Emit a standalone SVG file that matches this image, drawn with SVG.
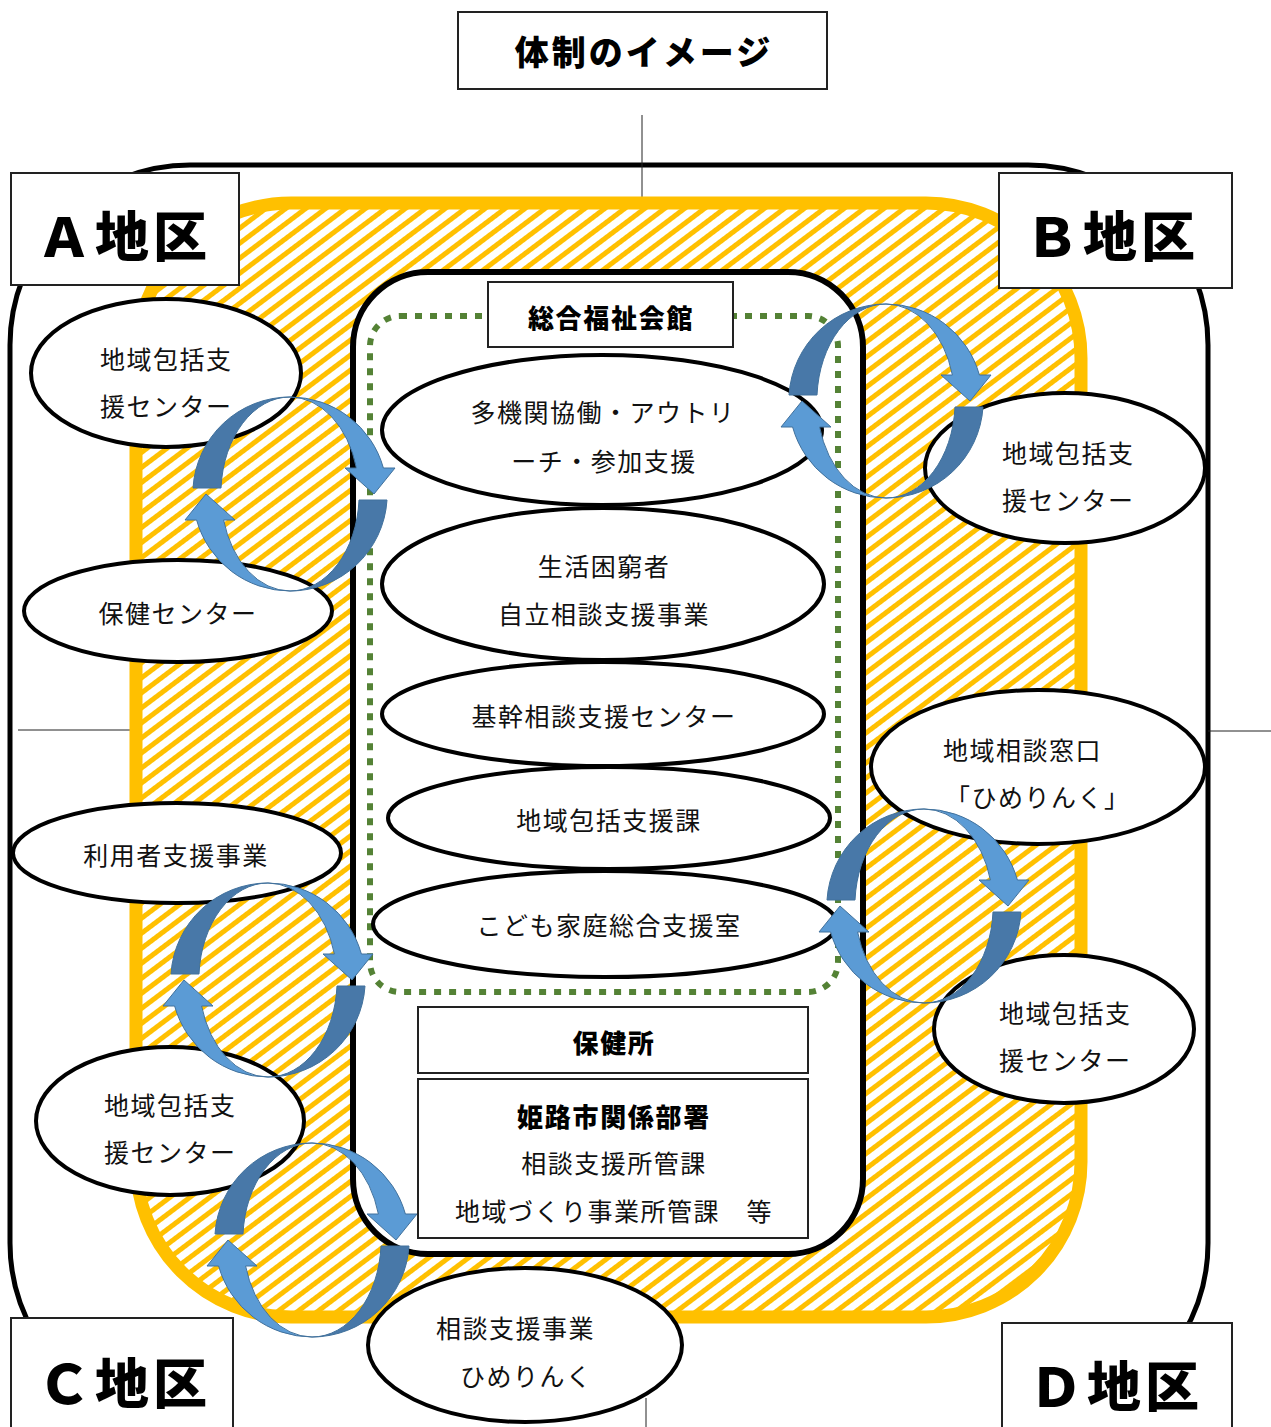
<svg xmlns="http://www.w3.org/2000/svg" xmlns:xlink="http://www.w3.org/1999/xlink" width="1271" height="1427" viewBox="0 0 1271 1427">
<style>
.t{font-family:"Noto Sans CJK JP","Noto Sans",sans-serif;font-size:25px;letter-spacing:1.5px;fill:#111;dominant-baseline:central}
.m{text-anchor:middle}
.b{font-weight:900;font-size:26px;letter-spacing:1.7px;fill:#000}
.d{font-family:"Noto Sans CJK JP","Noto Sans",sans-serif;font-size:54px;font-weight:900;letter-spacing:4px;fill:#000;dominant-baseline:central}
.ell{fill:#fff;stroke:#000;stroke-width:4}
.box{fill:#fff;stroke:#222;stroke-width:2}
.thin{stroke:#222;stroke-width:1;fill:none}
.dk{fill:#4878A8;stroke:#41719C;stroke-width:1}
.lt{fill:#5B9BD5;stroke:#41719C;stroke-width:1}
</style>
<defs>
<pattern id="hatch" patternUnits="userSpaceOnUse" width="12" height="12" patternTransform="rotate(-37)">
<rect width="12" height="12" fill="#fff"/>
<rect y="0" width="12" height="5" fill="#FFC000"/>
</pattern>
<g id="arrow">
<path class="dk" d="M -97,-6 A 97 97 0 0 1 0,-97 A 69 97 0 0 0 -69,-6 Z"/>
<path class="lt" d="M 0,-97 A 97 97 0 0 1 93.4,-26 L 105,-26 L 84,0 L 55,-26 L 66.4,-26 A 69 97 0 0 0 0,-97 Z"/>
</g>
<g id="cycle">
<use xlink:href="#arrow" href="#arrow"/>
<use xlink:href="#arrow" href="#arrow" transform="rotate(180)"/>
</g>
</defs>
<rect width="1271" height="1427" fill="#fff"/>

<g id="frame">
<path d="M 102,1400 A 180 180 0 0 1 10,1243 V 345 A 180 180 0 0 1 190,165 H 1028 A 180 180 0 0 1 1208,345 V 1243 A 180 180 0 0 1 1116,1400" fill="none" stroke="#000" stroke-width="5"/>
<line class="thin" x1="642" y1="115" x2="642" y2="197"/>
<line class="thin" x1="18" y1="730" x2="130" y2="730"/>
<line class="thin" x1="1208" y1="731" x2="1271" y2="731"/>
<line class="thin" x1="646" y1="1398" x2="646" y2="1427"/>
<rect x="136" y="203" width="945" height="1114" rx="155" ry="155" fill="url(#hatch)" stroke="#FFC000" stroke-width="13"/>
<rect x="353" y="272" width="510" height="982" rx="75" ry="75" fill="#fff" stroke="#000" stroke-width="6"/>
<rect x="370" y="316" width="468" height="676" rx="30" ry="30" fill="none" stroke="#548235" stroke-width="6" stroke-dasharray="7 8"/>
</g>

<g id="n-sogo">
<rect class="box" x="488" y="282" width="245" height="65"/>
<text class="t b m" x="611" y="316">総合福祉会館</text>
</g>
<g id="n-takikan">
<ellipse class="ell" cx="602" cy="430" rx="220" ry="75"/>
<text class="t m" x="603" y="411">多機関協働・アウトリ</text>
<text class="t m" x="604" y="460">ーチ・参加支援</text>
</g>
<g id="n-seikatsu">
<ellipse class="ell" cx="603" cy="584" rx="221" ry="76"/>
<text class="t m" x="604" y="565">生活困窮者</text>
<text class="t m" x="604" y="613">自立相談支援事業</text>
</g>
<g id="n-kikan">
<ellipse class="ell" cx="603" cy="714" rx="221" ry="52"/>
<text class="t m" x="604" y="715">基幹相談支援センター</text>
</g>
<g id="n-chiikihokatsuka">
<ellipse class="ell" cx="609" cy="818" rx="221" ry="51"/>
<text class="t m" x="609" y="819">地域包括支援課</text>
</g>
<g id="n-kodomo">
<ellipse class="ell" cx="605" cy="924" rx="232" ry="53"/>
<text class="t m" x="609" y="924">こども家庭総合支援室</text>
</g>
<g id="n-hokenjo">
<rect class="box" x="418" y="1007" width="390" height="66"/>
<text class="t b m" x="614" y="1041">保健所</text>
</g>
<g id="n-himeji">
<rect class="box" x="418" y="1079" width="390" height="159"/>
<text class="t b m" x="614" y="1115">姫路市関係部署</text>
<text class="t m" x="614" y="1162">相談支援所管課</text>
<text class="t m" x="614" y="1210">地域づくり事業所管課　等</text>
</g>

<g id="n-a-hokatsu">
<ellipse class="ell" cx="166" cy="373" rx="135" ry="74"/>
<text class="t" x="100" y="358">地域包括支</text>
<text class="t" x="100" y="405">援センター</text>
</g>
<g id="n-a-hoken">
<ellipse class="ell" cx="178" cy="611" rx="154" ry="51"/>
<text class="t m" x="178" y="612">保健センター</text>
</g>
<g id="n-c-riyousha">
<ellipse class="ell" cx="177" cy="853" rx="164" ry="50"/>
<text class="t m" x="176" y="854">利用者支援事業</text>
</g>
<g id="n-c-hokatsu">
<ellipse class="ell" cx="170" cy="1121" rx="134" ry="74"/>
<text class="t" x="104" y="1104">地域包括支</text>
<text class="t" x="104" y="1151">援センター</text>
</g>
<g id="n-c-himerink">
<ellipse class="ell" cx="525" cy="1345" rx="157" ry="77"/>
<text class="t" x="436" y="1327">相談支援事業</text>
<text class="t" x="460" y="1375">ひめりんく</text>
</g>
<g id="n-b-hokatsu">
<ellipse class="ell" cx="1065" cy="468" rx="140" ry="75"/>
<text class="t" x="1002" y="452">地域包括支</text>
<text class="t" x="1002" y="499">援センター</text>
</g>
<g id="n-d-madoguchi">
<ellipse class="ell" cx="1038" cy="767" rx="167" ry="77"/>
<text class="t" x="943" y="749">地域相談窓口</text>
<text class="t" x="945" y="796">「ひめりんく」</text>
</g>
<g id="n-d-hokatsu">
<ellipse class="ell" cx="1064" cy="1029" rx="130" ry="74"/>
<text class="t" x="999" y="1012">地域包括支</text>
<text class="t" x="999" y="1059">援センター</text>
</g>

<g id="connectors">
<use xlink:href="#cycle" href="#cycle" transform="translate(290,494)"/>
<use xlink:href="#cycle" href="#cycle" transform="translate(886,401)"/>
<use xlink:href="#cycle" href="#cycle" transform="translate(268,980)"/>
<use xlink:href="#cycle" href="#cycle" transform="translate(924,906)"/>
<use xlink:href="#cycle" href="#cycle" transform="translate(312,1240)"/>
</g>

<g id="n-districtA">
<rect class="box" x="11" y="173" width="228" height="112"/>
<text class="d" x="37" y="233">Ａ地区</text>
</g>
<g id="n-districtB">
<rect class="box" x="999" y="173" width="233" height="115"/>
<text class="d" x="1025" y="233">Ｂ地区</text>
</g>
<g id="n-districtC">
<rect class="box" x="11" y="1318" width="222" height="120"/>
<text class="d" x="37" y="1380">Ｃ地区</text>
</g>
<g id="n-districtD">
<rect class="box" x="1002" y="1323" width="230" height="115"/>
<text class="d" x="1029" y="1383">Ｄ地区</text>
</g>

<g id="n-title">
<rect class="box" x="458" y="12" width="369" height="77"/>
<text class="d m" x="644" y="50" style="font-size:34px;letter-spacing:3px">体制のイメージ</text>
</g>
</svg>
